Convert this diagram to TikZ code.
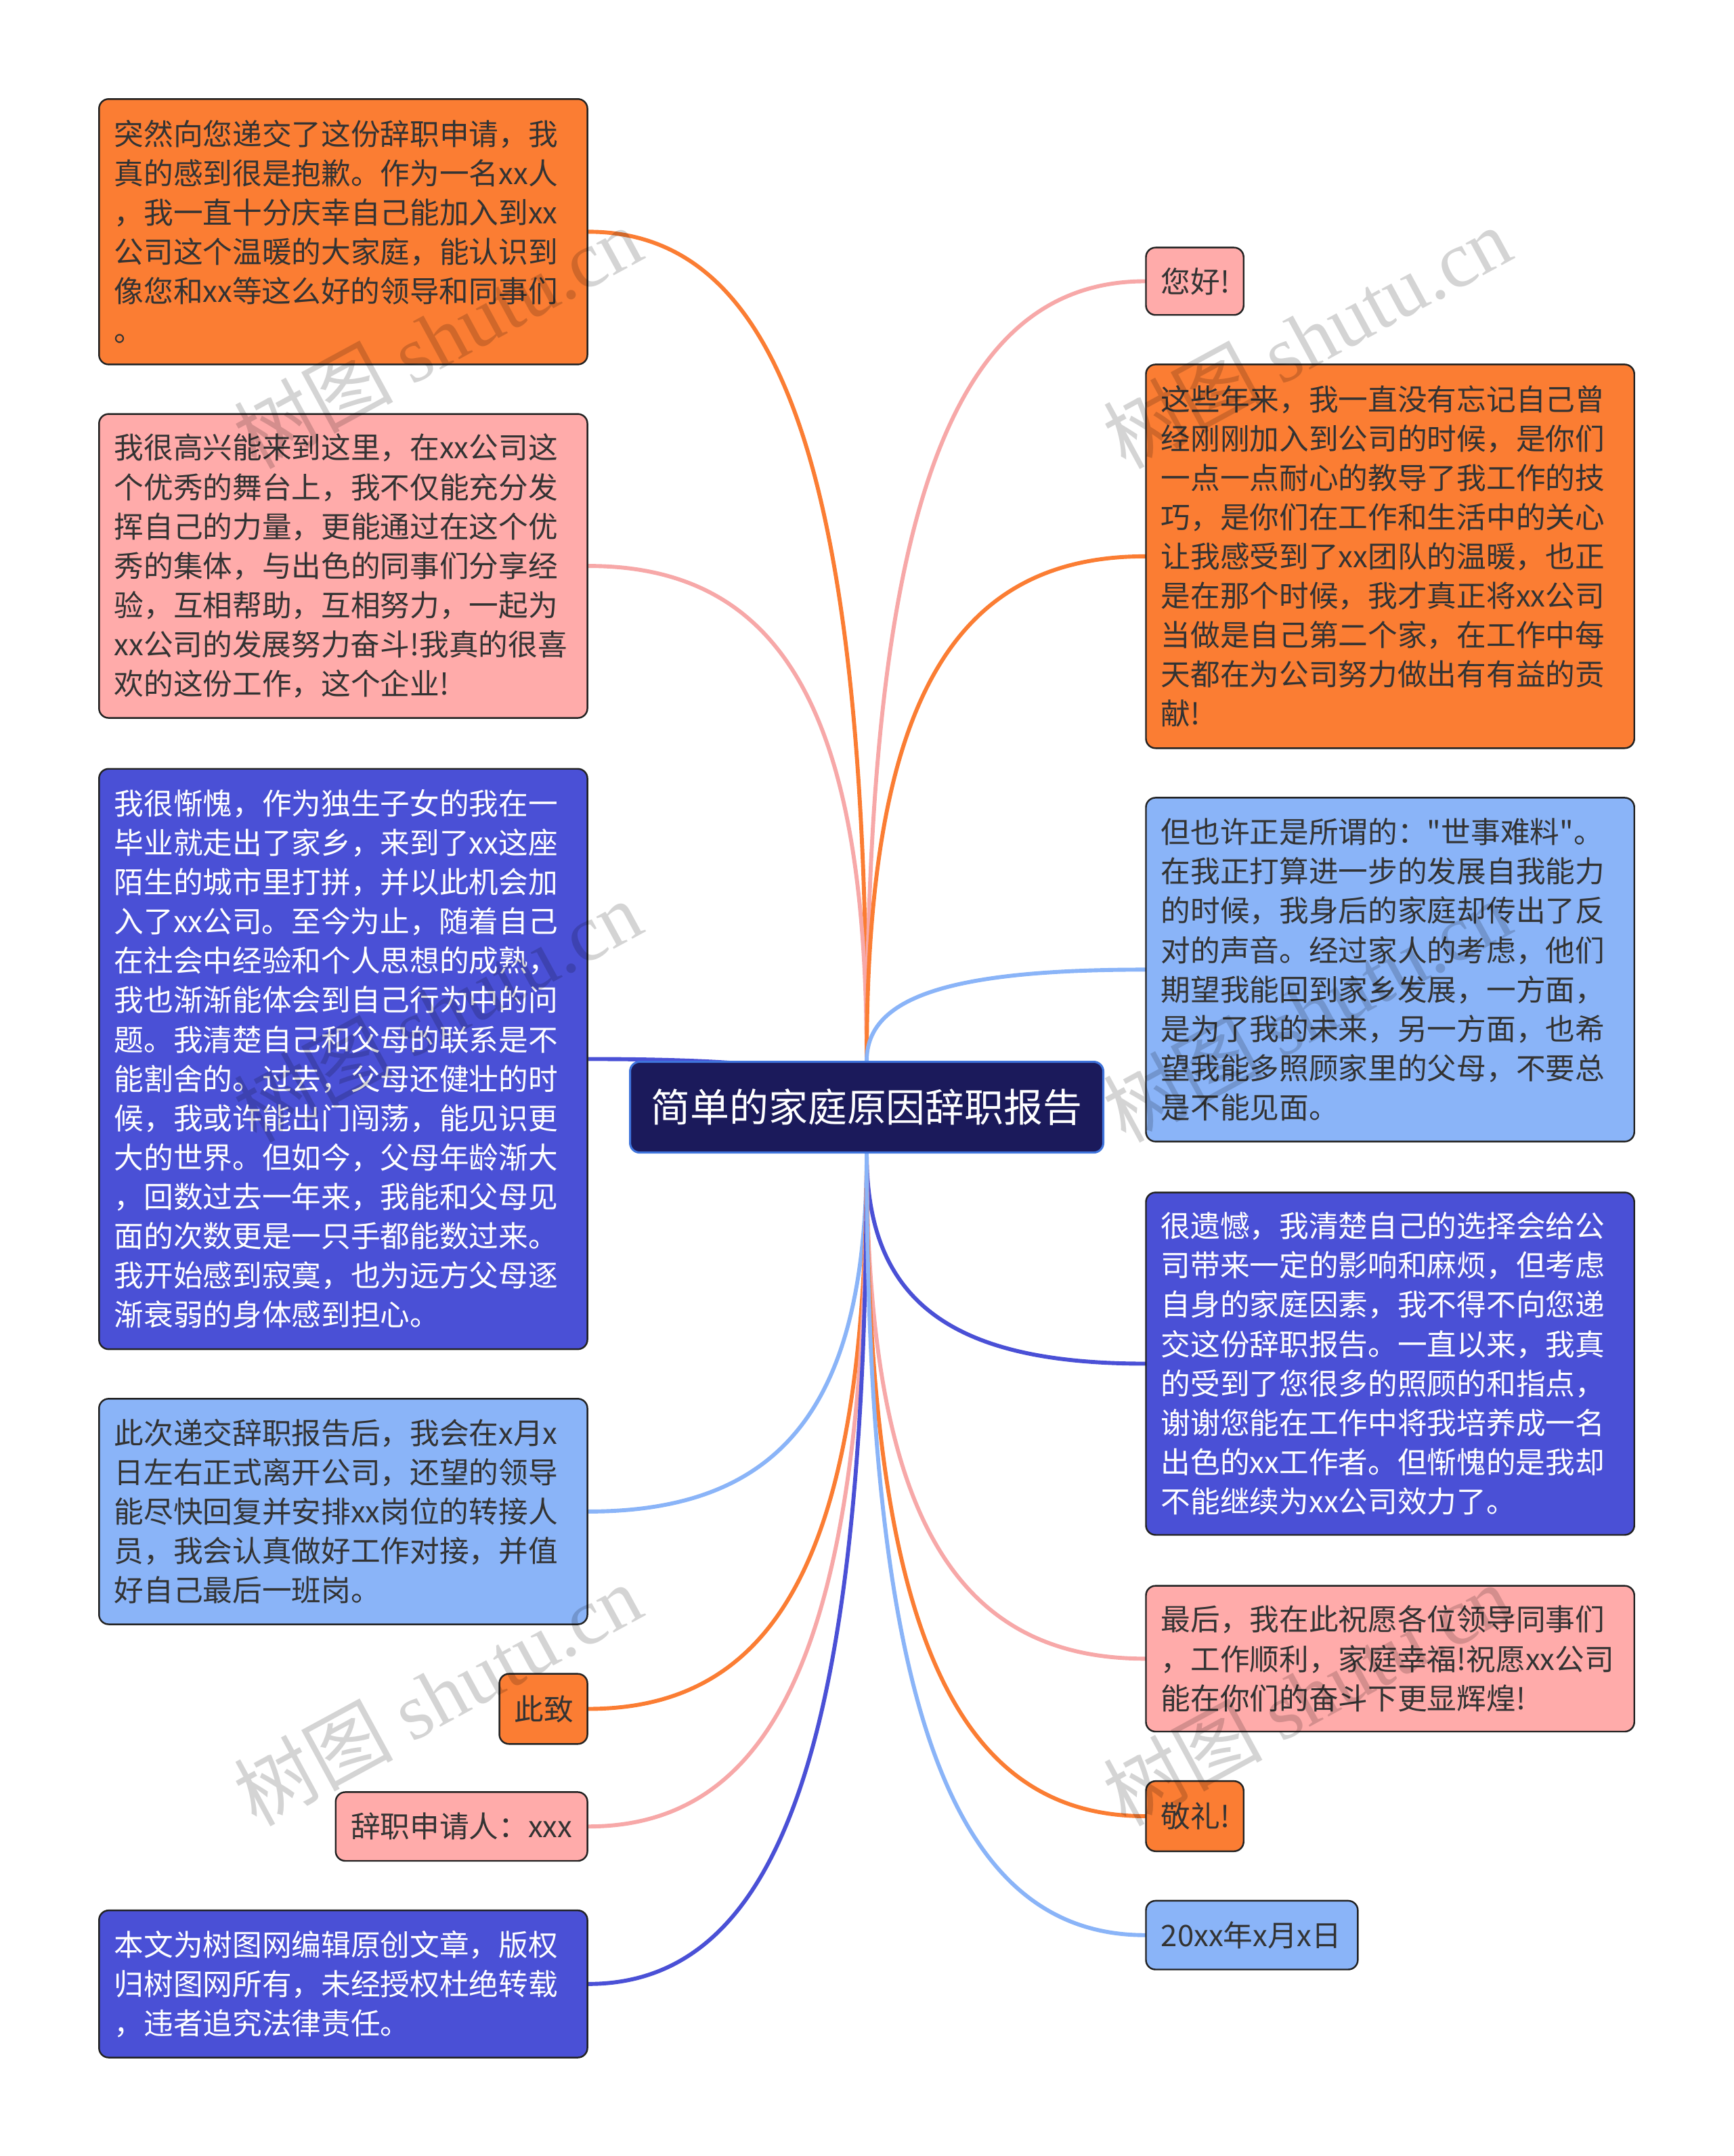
\documentclass[tikz,border=0pt]{standalone}
\usepackage{fontspec}
\setmainfont{Noto Sans CJK SC}
\newfontfamily\cjk{Noto Sans CJK SC}
\newfontfamily\wmserif{Liberation Serif}
\usetikzlibrary{calc}
\definecolor{cOr}{HTML}{FB7D33}
\definecolor{cPk}{HTML}{FFABAA}
\definecolor{cLb}{HTML}{8AB4F8}
\definecolor{cBl}{HTML}{4A50D6}
\definecolor{cNv}{HTML}{1B1A5B}
\definecolor{cNvB}{HTML}{3F74DC}
\definecolor{cTx}{HTML}{333333}
\definecolor{cLkPk}{HTML}{F7A8A8}
\definecolor{cBd}{HTML}{222222}
\pgfdeclarelayer{background}
\pgfsetlayers{background,main}
\tikzset{
  box/.style={draw=cBd, line width=1.2pt, rounded corners=7pt, inner xsep=11pt, inner ysep=0pt,
    align=left, font=\cjk\fontsize{21.5}{28.6}\selectfont, anchor=center},
  orbox/.style={box, fill=cOr, text=cTx},
  pkbox/.style={box, fill=cPk, text=cTx},
  lbbox/.style={box, fill=cLb, text=cTx},
  blbox/.style={box, fill=cBl, text=white},
  link/.style={line width=2.9pt, line cap=round},
  wmark/.style={text=black, text opacity=0.17, rotate=28.5, font=\cjk\fontsize{58}{60}\selectfont},
}
\newcommand\mmlink[3]{\draw[link,#1] (#2) .. controls ($(#2)!0.7!(#2 |- #3)$) and ($(#3)!0.7!(#2 |- #3)$) .. (#3);}
\begin{document}
\begin{tikzpicture}[x=1pt,y=-1pt]
\useasboundingbox (0,0) rectangle (1260,1567.6);
% center
\node[draw=cNvB, fill=cNv, line width=1.5pt, rounded corners=7pt, minimum width=344pt, minimum height=66pt,
  inner sep=0pt, text=white, font=\cjk\fontsize{28.5}{30}\selectfont] (C) at (630,805) {简单的家庭原因辞职报告};
% left column
\node[orbox, text width=333pt, minimum height=193pt] (L1) at (249.5,168.5) {突然向您递交了这份辞职申请，我\\真的感到很是抱歉。作为一名xx人\\，我一直十分庆幸自己能加入到xx\\公司这个温暖的大家庭，能认识到\\像您和xx等这么好的领导和同事们\\。};
\node[pkbox, text width=333pt, minimum height=221pt] (L2) at (249.5,411.5) {我很高兴能来到这里，在xx公司这\\个优秀的舞台上，我不仅能充分发\\挥自己的力量，更能通过在这个优\\秀的集体，与出色的同事们分享经\\验，互相帮助，互相努力，一起为\\xx公司的发展努力奋斗!我真的很喜\\欢的这份工作，这个企业!};
\node[blbox, text width=333pt, minimum height=422pt] (L3) at (249.5,770) {我很惭愧，作为独生子女的我在一\\毕业就走出了家乡，来到了xx这座\\陌生的城市里打拼，并以此机会加\\入了xx公司。至今为止，随着自己\\在社会中经验和个人思想的成熟，\\我也渐渐能体会到自己行为中的问\\题。我清楚自己和父母的联系是不\\能割舍的。过去，父母还健壮的时\\候，我或许能出门闯荡，能见识更\\大的世界。但如今，父母年龄渐大\\，回数过去一年来，我能和父母见\\面的次数更是一只手都能数过来。\\我开始感到寂寞，也为远方父母逐\\渐衰弱的身体感到担心。};
\node[lbbox, text width=333pt, minimum height=164pt] (L4) at (249.5,1099) {此次递交辞职报告后，我会在x月x\\日左右正式离开公司，还望的领导\\能尽快回复并安排xx岗位的转接人\\员，我会认真做好工作对接，并值\\好自己最后一班岗。};
\node[orbox, text width=42pt, minimum height=51pt] (L5) at (395,1242.5) {此致};
\node[pkbox, text width=161pt, minimum height=50pt] (L6) at (335.5,1328) {辞职申请人：xxx};
\node[blbox, text width=333pt, minimum height=107pt] (L7) at (249.5,1442.5) {本文为树图网编辑原创文章，版权\\归树图网所有，未经授权杜绝转载\\，违者追究法律责任。};
% right column
\node[pkbox, text width=49pt, minimum height=49pt] (R1) at (868.5,204.5) {您好!};
\node[orbox, text width=333pt, minimum height=279pt] (R2) at (1010.5,404.5) {这些年来，我一直没有忘记自己曾\\经刚刚加入到公司的时候，是你们\\一点一点耐心的教导了我工作的技\\巧，是你们在工作和生活中的关心\\让我感受到了xx团队的温暖，也正\\是在那个时候，我才真正将xx公司\\当做是自己第二个家，在工作中每\\天都在为公司努力做出有有益的贡\\献!};
\node[lbbox, text width=333pt, minimum height=250pt] (R3) at (1010.5,705) {但也许正是所谓的："世事难料"。\\在我正打算进一步的发展自我能力\\的时候，我身后的家庭却传出了反\\对的声音。经过家人的考虑，他们\\期望我能回到家乡发展，一方面，\\是为了我的未来，另一方面，也希\\望我能多照顾家里的父母，不要总\\是不能见面。};
\node[blbox, text width=333pt, minimum height=249pt] (R4) at (1010.5,991.5) {很遗憾，我清楚自己的选择会给公\\司带来一定的影响和麻烦，但考虑\\自身的家庭因素，我不得不向您递\\交这份辞职报告。一直以来，我真\\的受到了您很多的照顾的和指点，\\谢谢您能在工作中将我培养成一名\\出色的xx工作者。但惭愧的是我却\\不能继续为xx公司效力了。};
\node[pkbox, text width=333pt, minimum height=106pt] (R5) at (1010.5,1206) {最后，我在此祝愿各位领导同事们\\，工作顺利，家庭幸福!祝愿xx公司\\能在你们的奋斗下更显辉煌!};
\node[orbox, text width=49pt, minimum height=51pt] (R6) at (868.5,1320.5) {敬礼!};
\node[lbbox, text width=132pt, minimum height=50pt] (R7) at (910,1407) {20xx年x月x日};
% connectors
\begin{pgfonlayer}{background}
\fill[white] (0,0) rectangle (1260,1567.6);
\mmlink{cOr}{C.north}{L1.east}
\mmlink{cLkPk}{C.north}{L2.east}
\mmlink{cBl}{C.center}{L3.east}
\mmlink{cLb}{C.south}{L4.east}
\mmlink{cOr}{C.south}{L5.east}
\mmlink{cLkPk}{C.south}{L6.east}
\mmlink{cBl}{C.south}{L7.east}
\mmlink{cLkPk}{C.north}{R1.west}
\mmlink{cOr}{C.north}{R2.west}
\mmlink{cLb}{C.north}{R3.west}
\mmlink{cBl}{C.south}{R4.west}
\mmlink{cLkPk}{C.south}{R5.west}
\mmlink{cOr}{C.south}{R6.west}
\mmlink{cLb}{C.south}{R7.west}
\end{pgfonlayer}
% watermarks
\foreach \wx/\wy [count=\i] in {318/245, 950/245, 318/735, 950/735, 318/1232, 950/1232}
  \node[wmark] (wm\i) at (\wx,\wy) {树图 {\wmserif shutu.cn}};
\end{tikzpicture}
\end{document}
